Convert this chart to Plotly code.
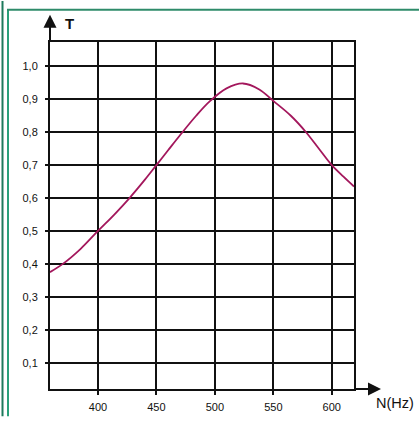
import plotly.graph_objects as go

freq = [359, 370, 385, 400, 414, 427, 440, 450, 460, 470, 484, 496, 510, 524, 538, 550, 565, 578, 590, 600, 610, 619]
trans = [0.375, 0.40, 0.445, 0.50, 0.55, 0.60, 0.655, 0.70, 0.745, 0.79, 0.85, 0.895, 0.933, 0.948, 0.93, 0.895, 0.85, 0.80, 0.745, 0.70, 0.665, 0.635]
x_ticks = [400, 450, 500, 550, 600]
y_ticks = [0.1, 0.2, 0.3, 0.4, 0.5, 0.6, 0.7, 0.8, 0.9, 1.0]
y_labels = ["0,1", "0,2", "0,3", "0,4", "0,5", "0,6", "0,7", "0,8", "0,9", "1,0"]

W, H = 304.0, 355.0  # plot area in px
def px(xp):  # pixel x -> paper x
    return (xp - 50) / W
def py(yp):  # pixel y -> paper y
    return (397 - yp) / H

fig = go.Figure()
fig.add_trace(go.Scatter(x=freq, y=trans, mode="lines",
                         line=dict(color="#a3175c", width=1.8, shape="spline", smoothing=1.0),
                         hoverinfo="skip", showlegend=False))

fig.update_layout(
    width=419, height=425,
    margin=dict(l=50, r=65, t=42, b=28),
    paper_bgcolor="white", plot_bgcolor="white",
    font=dict(family="Liberation Sans, Arial, sans-serif", color="#111", size=11),
    showlegend=False,
)
fig.update_xaxes(range=[359, 619], tickvals=x_ticks, ticktext=[str(v) for v in x_ticks],
                 showgrid=True, gridcolor="#111", gridwidth=2,
                 ticks="outside", ticklen=4, tickwidth=2, tickcolor="#111",
                 ticklabelstandoff=3,
                 showline=True, linecolor="#111", linewidth=2, mirror=True,
                 zeroline=False, fixedrange=True)
fig.update_yaxes(range=[0.02, 1.074], tickvals=y_ticks, ticktext=y_labels,
                 showgrid=True, gridcolor="#111", gridwidth=2,
                 ticks="outside", ticklen=3, tickwidth=2, tickcolor="#111",
                 ticklabelstandoff=5,
                 showline=True, linecolor="#111", linewidth=2, mirror=True,
                 zeroline=False, fixedrange=True)

# axis arrows
fig.add_shape(type="line", xref="paper", yref="paper", x0=0, x1=0, y0=1, y1=py(22),
              line=dict(color="#111", width=2))
fig.add_annotation(xref="paper", yref="paper", x=0, y=py(14), ax=0, ay=14,
                   showarrow=True, arrowhead=2, arrowsize=1.3, arrowwidth=2, arrowcolor="#111", text="")
fig.add_shape(type="line", xref="paper", yref="paper", x0=1, x1=px(372), y0=0, y1=0,
              line=dict(color="#111", width=2))
fig.add_annotation(xref="paper", yref="paper", x=px(381), y=0, ax=-14, ay=0,
                   showarrow=True, arrowhead=2, arrowsize=1.3, arrowwidth=2, arrowcolor="#111", text="")
fig.add_annotation(xref="paper", yref="paper", x=px(63), y=py(23), text="<b>T</b>", showarrow=False,
                   xanchor="left", yanchor="middle", font=dict(size=15, color="#111"))
fig.add_annotation(xref="paper", yref="paper", x=px(374), y=py(411), text="N(Hz)", showarrow=False,
                   xanchor="left", yanchor="middle", font=dict(size=14.5, color="#111"))

# green frame
fig.add_shape(type="line", xref="paper", yref="paper", x0=px(2.5), x1=px(2.5), y0=py(425), y1=py(0),
              line=dict(color="#1e7a5c", width=2))
fig.add_shape(type="line", xref="paper", yref="paper", x0=px(8), x1=px(8), y0=py(425), y1=py(9),
              line=dict(color="#2aa07a", width=2))
fig.add_shape(type="line", xref="paper", yref="paper", x0=px(7), x1=px(419), y0=py(9), y1=py(9),
              line=dict(color="#2e8b6a", width=2))

fig.write_html("out.html")
